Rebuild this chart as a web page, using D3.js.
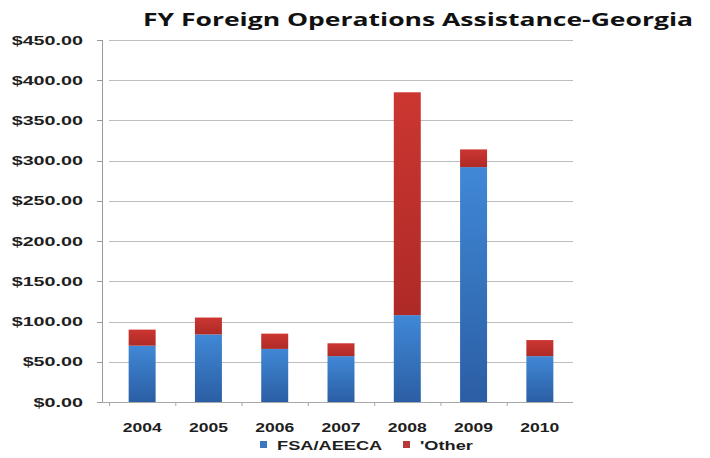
<!DOCTYPE html>
<html>
<head>
<meta charset="utf-8">
<script src="https://cdn.jsdelivr.net/npm/d3@7"></script>
<style>
    body { margin: 0; background: #fff; }
    .tickLabel { font-family: "Liberation Sans", Arial, sans-serif; font-weight: bold; fill: #1e1e1e; }
    .title { font-family: "Open Sans", sans-serif; font-weight: bold; fill: #111; }
</style>
</head>
<body>
<div id="chart"></div>
<script>
    // data (millions of dollars)
    const years = ["2004", "2005", "2006", "2007", "2008", "2009", "2010"];
    const fsa = [70, 84, 66, 57, 108, 292, 57];
    const other = [20, 21, 19, 16, 277, 22, 20];
    const seriesNames = ["FSA/AEECA", "'Other"];
    const yTicks = [0, 50, 100, 150, 200, 250, 300, 350, 400, 450];

    const width = 710, height = 458;

    let svg = d3.select("#chart")
        .append("svg")
        .attr("width", width)
        .attr("height", height);

    // gradients for the bars
    let defs = svg.append("defs");
    function gradient(id, top, bottom){
        let g = defs.append("linearGradient")
            .attr("id", id)
            .attr("x1", 0).attr("y1", 0)
            .attr("x2", 0).attr("y2", 1);
        g.append("stop").attr("offset", "0%").attr("stop-color", top);
        g.append("stop").attr("offset", "100%").attr("stop-color", bottom);
    }
    gradient("gradBlue", "#4088d6", "#2b5ea4");
    gradient("gradRed", "#cc3631", "#ae2a27");

    let x = d3.scaleBand()
        .domain(years)
        .range([109, 573])
        .paddingInner(0.593)
        .paddingOuter(0.2965);

    let y = d3.scaleLinear()
        .domain([0, 450])
        .range([402, 40]);

    let rows = years.map((yr, i) => ({year: yr, fsa: fsa[i], other: other[i]}));
    let stacked = d3.stack().keys(["fsa", "other"])(rows);

    // gridlines
    svg.append("g")
        .selectAll("line")
        .data(yTicks.filter(d => d > 0))
        .join("line")
        .attr("x1", 109)
        .attr("x2", 573)
        .attr("y1", d => Math.round(y(d)) + 0.5)
        .attr("y2", d => Math.round(y(d)) + 0.5)
        .attr("stroke", "#bdbdbd")
        .attr("stroke-width", 1.2);

    // y axis line + ticks
    svg.append("line")
        .attr("x1", 102.5).attr("x2", 102.5)
        .attr("y1", y(450)).attr("y2", y(0))
        .attr("stroke", "#9a9a9a");
    svg.append("g")
        .selectAll("line")
        .data(yTicks)
        .join("line")
        .attr("x1", 97)
        .attr("x2", 102)
        .attr("y1", d => Math.round(y(d)) + 0.5)
        .attr("y2", d => Math.round(y(d)) + 0.5)
        .attr("stroke", "#9a9a9a");

    // y tick labels (stretched like the original)
    svg.append("g")
        .selectAll("text")
        .data(yTicks)
        .join("text")
        .attr("class", "tickLabel")
        .attr("text-anchor", "end")
        .style("font-size", "12.5px")
        .attr("transform", d => `translate(83, ${y(d) + 4.5}) scale(1.58, 1)`)
        .text(d => "$" + d.toFixed(2));

    // bars
    const fills = ["url(#gradBlue)", "url(#gradRed)"];
    svg.append("g")
        .selectAll("g")
        .data(stacked)
        .join("g")
        .attr("fill", (d, i) => fills[i])
        .selectAll("rect")
        .data(d => d)
        .join("rect")
        .attr("x", d => x(d.data.year))
        .attr("y", d => y(d[1]))
        .attr("width", x.bandwidth())
        .attr("height", d => y(d[0]) - y(d[1]));

    // x baseline + ticks at band boundaries
    svg.append("line")
        .attr("x1", 102).attr("x2", 573)
        .attr("y1", 402.5).attr("y2", 402.5)
        .attr("stroke", "#a8a8a8")
        .attr("stroke-width", 1.2);
    svg.append("g")
        .selectAll("line")
        .data(d3.range(years.length))
        .join("line")
        .attr("x1", i => 109 + i * x.step() + 0.5)
        .attr("x2", i => 109 + i * x.step() + 0.5)
        .attr("y1", 402)
        .attr("y2", 406)
        .attr("stroke", "#a8a8a8");

    // x tick labels
    svg.append("g")
        .selectAll("text")
        .data(years)
        .join("text")
        .attr("class", "tickLabel")
        .attr("text-anchor", "middle")
        .style("font-size", "13.5px")
        .attr("transform", d => `translate(${x(d) + x.bandwidth() / 2}, 432) scale(1.3, 1)`)
        .text(d => d);

    // legend
    const legendX = [260, 403];
    const legendColors = ["#3a77c0", "#b83a38"];
    seriesNames.forEach((name, i) => {
        svg.append("rect")
            .attr("x", legendX[i])
            .attr("y", 441)
            .attr("width", 7)
            .attr("height", 7)
            .attr("fill", legendColors[i]);
        svg.append("text")
            .attr("class", "tickLabel")
            .style("font-size", "12px")
            .attr("transform", `translate(${legendX[i] + 17}, 449.5) scale(1.52, 1)`)
            .text(name);
    });

    // title
    svg.append("text")
        .attr("class", "title")
        .attr("x", 143)
        .attr("y", 26)
        .style("font-size", "18px")
        .attr("textLength", 550)
        .attr("lengthAdjust", "spacingAndGlyphs")
        .text("FY Foreign Operations Assistance-Georgia");
</script>
</body>
</html>
